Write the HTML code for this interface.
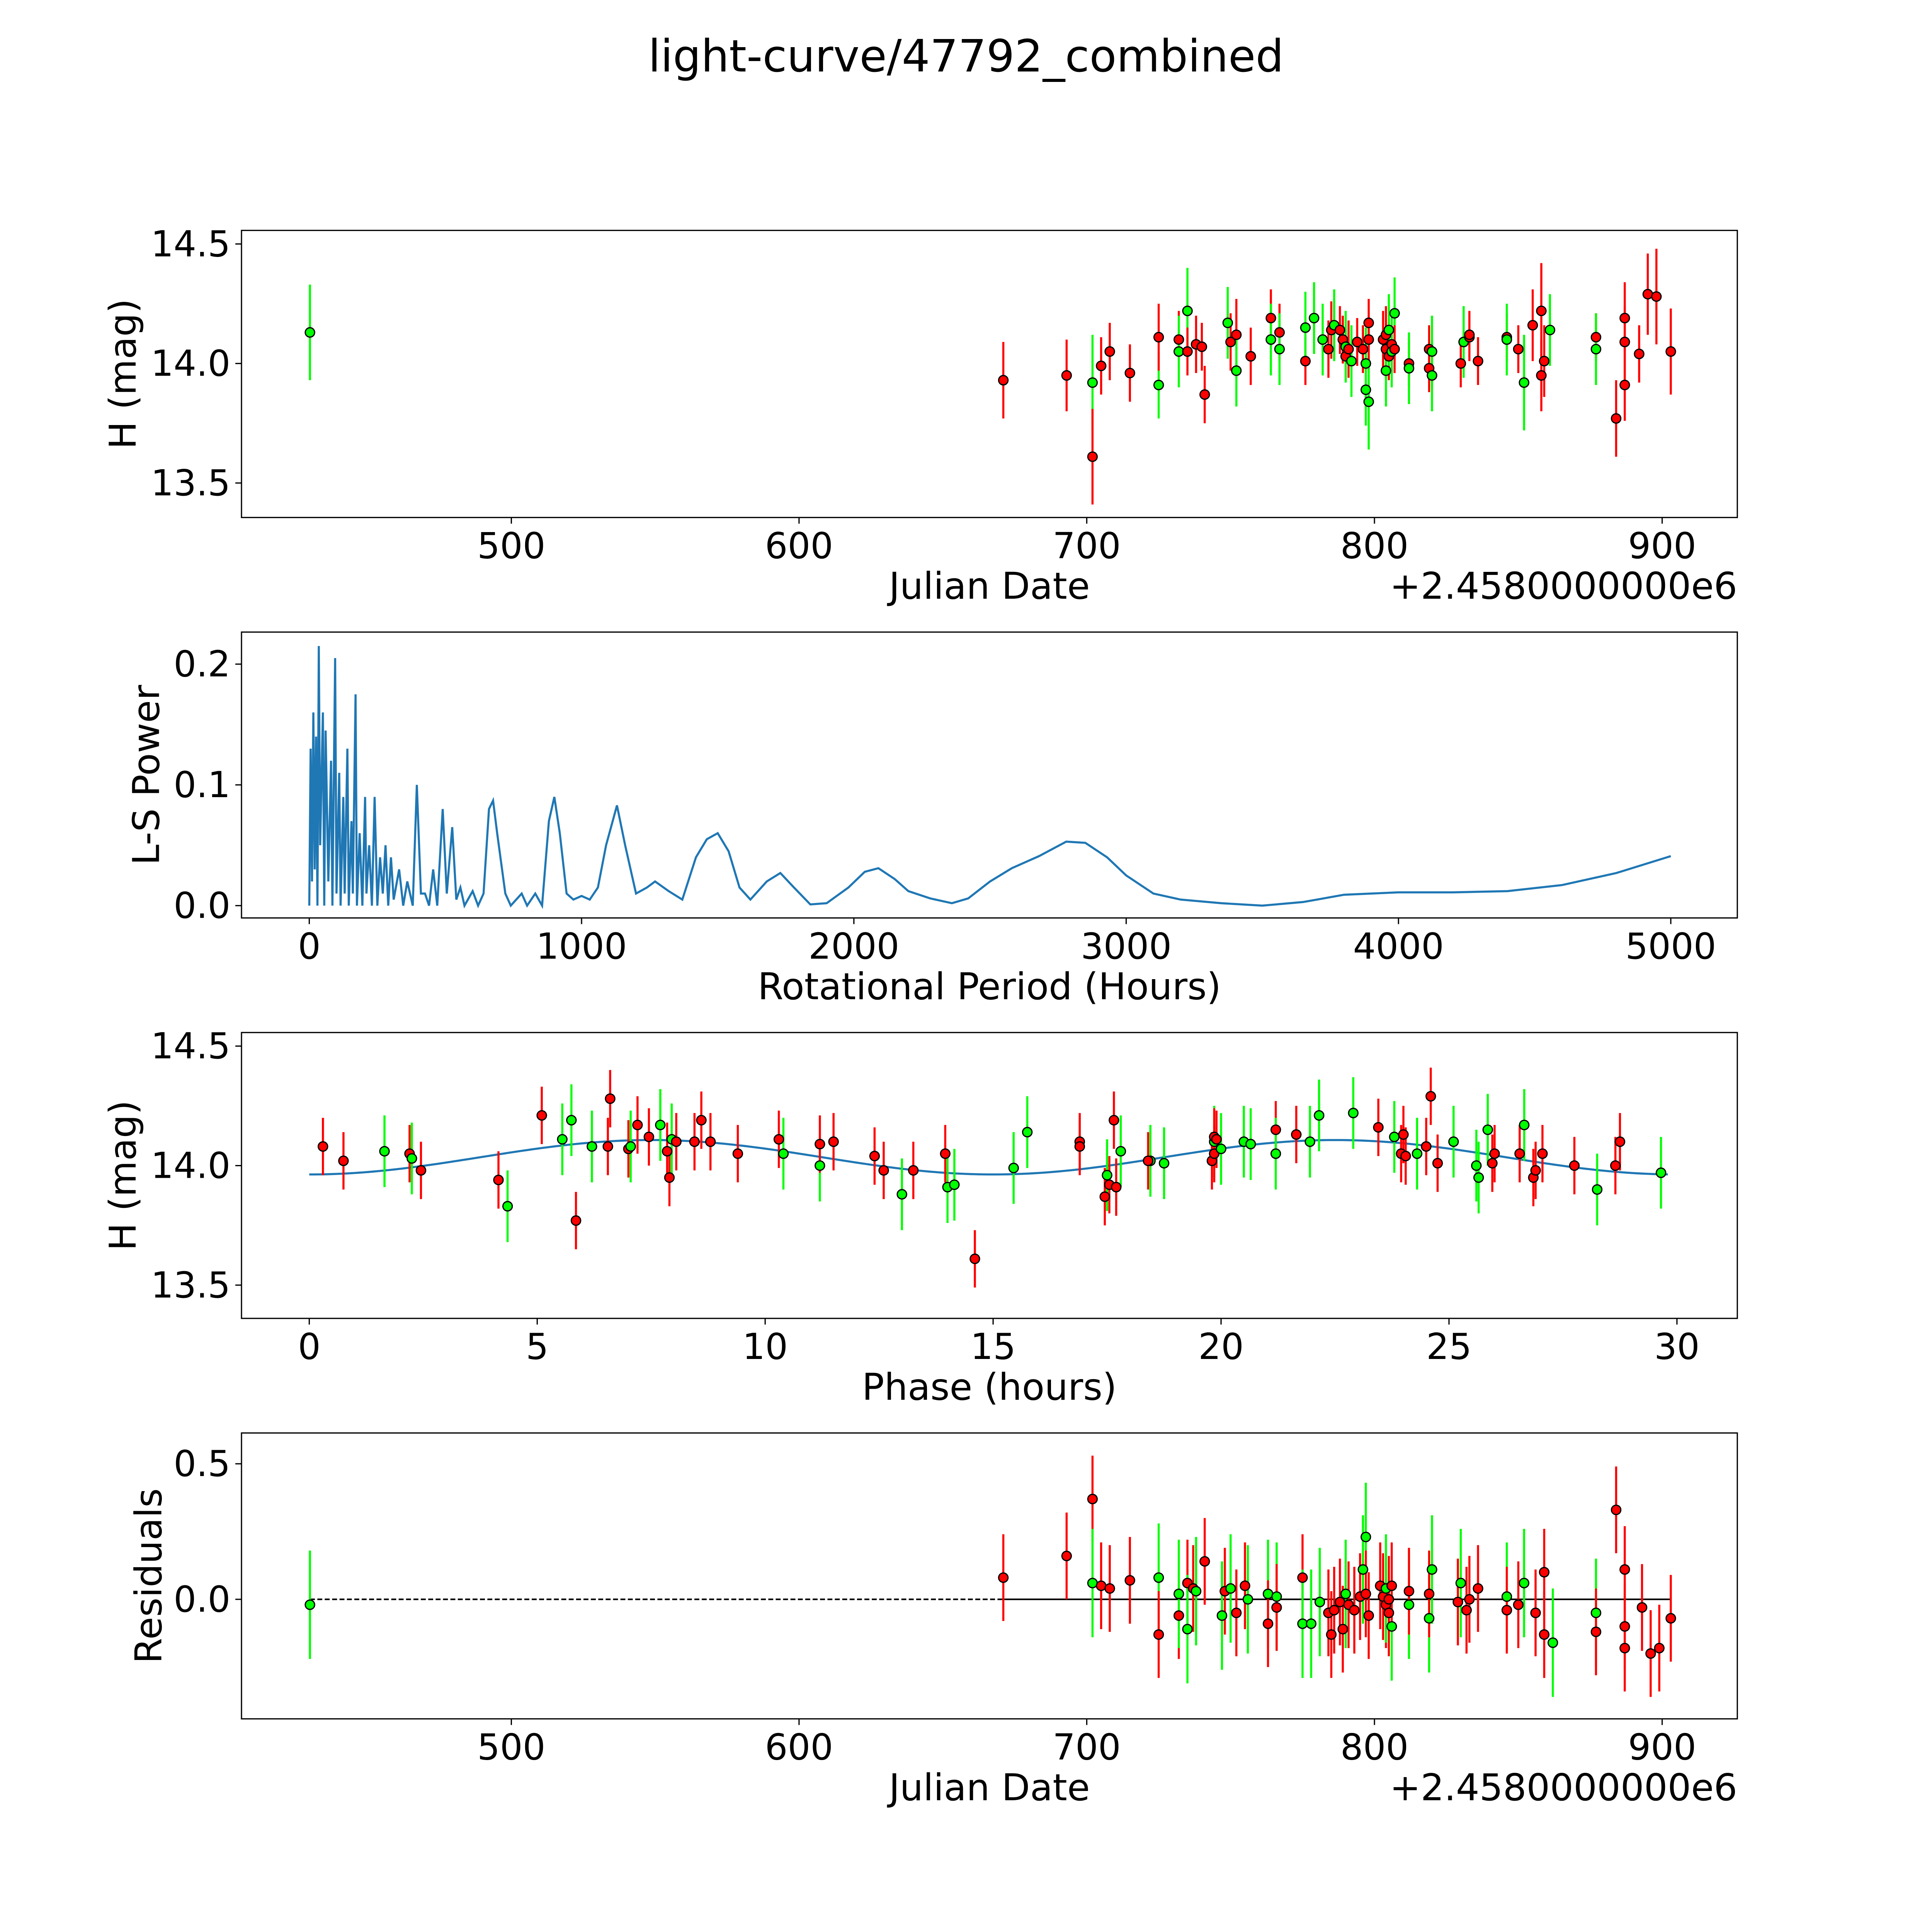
<!DOCTYPE html>
<html><head><meta charset="utf-8"><style>
html,body{margin:0;padding:0;background:#fff;overflow:hidden;width:100vw;height:100vh}
svg{display:block;position:absolute;left:0;top:0;width:100vw;height:100vh;font-family:"DejaVu Sans","Liberation Sans",sans-serif}
</style></head><body>
<svg id="fig" viewBox="0 0 1568 1568" preserveAspectRatio="none" xmlns="http://www.w3.org/2000/svg">
<rect width="1568" height="1568" fill="#fff"/>
<text x="784" y="58" font-size="36" text-anchor="middle">light-curve/47792_combined</text>
<g id="layer"></g>
</svg>
<script>
// ---- Light curve data (JD offset from 2458000, H mag, error, filter) ----
const lcJD=[430,671,693,702,702,705,708,715,725,725,732,732,735,735,738,740,741,750,749,752,752,757,764,764,767,767,776,776,779,782,784,785,786,788,789,790,790,791,792,794,796,797,797,798,798,798,803,804,804,804,805,805,806,806,807,807,812,812,819,819,820,820,830,831,833,833,836,846,846,850,852,855,858,858,859,861,877,877,884,887,887,887,892,895,898,903];
const lcMag=[14.13,13.93,13.95,13.92,13.61,13.99,14.05,13.96,13.91,14.11,14.10,14.05,14.22,14.05,14.08,14.07,13.87,14.09,14.17,14.12,13.97,14.03,14.19,14.10,14.13,14.06,14.01,14.15,14.19,14.10,14.06,14.14,14.16,14.14,14.10,14.03,14.07,14.06,14.01,14.09,14.06,14.00,13.89,13.84,14.17,14.10,14.10,14.12,14.06,13.97,14.03,14.14,14.08,14.05,14.21,14.06,14.00,13.98,14.06,13.98,14.05,13.95,14.00,14.09,14.11,14.12,14.01,14.11,14.10,14.06,13.92,14.16,13.95,14.22,14.01,14.14,14.11,14.06,13.77,14.09,14.19,13.91,14.04,14.29,14.28,14.05];
const lcErr=[0.2,0.16,0.15,0.2,0.2,0.12,0.12,0.12,0.14,0.14,0.12,0.15,0.18,0.1,0.12,0.1,0.12,0.12,0.15,0.15,0.15,0.12,0.12,0.15,0.12,0.15,0.1,0.15,0.15,0.15,0.12,0.12,0.15,0.1,0.1,0.1,0.15,0.12,0.15,0.1,0.1,0.15,0.15,0.2,0.1,0.1,0.12,0.12,0.12,0.15,0.1,0.15,0.1,0.15,0.15,0.1,0.1,0.15,0.1,0.1,0.15,0.15,0.1,0.15,0.1,0.1,0.1,0.1,0.15,0.1,0.2,0.15,0.15,0.2,0.15,0.15,0.1,0.15,0.16,0.15,0.15,0.15,0.12,0.17,0.2,0.18];
const lcBand=["g","r","r","g","r","r","r","r","g","r","r","g","g","r","r","r","r","r","g","r","g","r","r","g","r","g","r","g","g","g","r","r","g","r","r","r","g","r","g","r","r","g","g","g","r","r","r","r","r","g","r","g","r","g","g","r","r","g","r","r","g","g","r","g","r","r","r","r","g","r","g","r","r","r","r","g","r","g","r","r","r","r","r","r","r","r"];
// ---- Periodogram ----
const lsPeriod=[0,5,10,15,20,25,30,35,40,50,55,60,70,80,85,95,100,110,115,125,130,140,145,155,160,170,175,185,195,205,210,220,230,240,250,260,270,280,290,300,310,330,345,360,380,395,410,425,440,455,470,490,505,525,540,555,570,600,620,640,660,675,690,720,740,780,800,830,855,880,900,920,945,970,1000,1030,1060,1090,1130,1160,1200,1240,1270,1320,1370,1420,1460,1500,1540,1580,1620,1680,1730,1780,1840,1900,1980,2040,2090,2150,2200,2280,2360,2420,2500,2580,2680,2780,2850,2930,3000,3100,3200,3350,3500,3650,3800,4000,4200,4400,4600,4800,5000];
const lsPower=[0,0.13,0.02,0.16,0.03,0.14,0.0,0.215,0.05,0.16,0.0,0.145,0.02,0.12,0,0.205,0.01,0.11,0,0.09,0.01,0.13,0,0.07,0.01,0.175,0,0.06,0,0.09,0.01,0.05,0,0.09,0,0.04,0.01,0.05,0,0.04,0.005,0.03,0,0.02,0.0,0.1,0.01,0.01,0.0,0.03,0,0.08,0.01,0.065,0.005,0.015,0,0.012,0,0.01,0.08,0.087,0.06,0.01,0,0.01,0.0,0.01,0,0.07,0.09,0.06,0.01,0.005,0.008,0.005,0.015,0.05,0.083,0.05,0.01,0.015,0.02,0.012,0.005,0.04,0.055,0.06,0.045,0.015,0.005,0.02,0.027,0.015,0.001,0.002,0.015,0.028,0.031,0.022,0.012,0.006,0.002,0.006,0.02,0.031,0.041,0.053,0.052,0.04,0.025,0.01,0.005,0.002,0.0,0.003,0.009,0.011,0.011,0.012,0.017,0.027,0.041];
// ---- Phased curve ----
const phHours=[0.3,0.75,1.65,2.2,2.25,2.45,4.15,4.35,5.1,5.55,5.75,5.85,6.2,6.55,6.6,7.0,7.05,7.2,7.45,7.7,7.85,7.95,7.9,8.05,8.45,8.6,8.8,9.4,10.3,10.4,11.2,11.2,11.5,12.4,12.6,13.0,13.25,13.95,14.0,14.15,14.6,15.45,15.75,16.9,16.9,17.45,17.5,17.55,17.7,17.65,17.8,18.45,18.4,18.75,19.8,19.85,19.85,19.85,19.9,20.0,20.5,20.65,21.2,21.2,21.65,21.95,22.15,22.9,23.45,23.8,24.0,23.95,24.05,24.3,24.5,24.6,24.75,25.1,25.6,25.65,25.85,25.95,26.0,26.55,26.65,26.85,26.9,27.05,27.75,28.25,28.65,28.75,29.65];
const phMag=[14.08,14.02,14.06,14.05,14.03,13.98,13.94,13.83,14.21,14.11,14.19,13.77,14.08,14.08,14.28,14.07,14.08,14.17,14.12,14.17,14.06,14.11,13.95,14.1,14.1,14.19,14.1,14.05,14.11,14.05,14.0,14.09,14.1,14.04,13.98,13.88,13.98,14.05,13.91,13.92,13.61,13.99,14.14,14.1,14.08,13.87,13.96,13.92,13.91,14.19,14.06,14.02,14.02,14.01,14.02,14.1,14.05,14.12,14.11,14.07,14.1,14.09,14.15,14.05,14.13,14.1,14.21,14.22,14.16,14.12,14.13,14.05,14.04,14.05,14.08,14.29,14.01,14.1,14.0,13.95,14.15,14.01,14.05,14.05,14.17,13.95,13.98,14.05,14.0,13.9,14.0,14.1,13.97];
const phBand=["r","r","g","r","g","r","r","g","r","g","g","r","g","r","r","r","g","r","r","g","r","g","r","r","r","r","r","r","r","g","g","r","r","r","r","g","r","r","g","g","r","g","g","r","r","r","g","r","r","r","g","g","r","g","r","g","r","r","r","g","g","g","r","g","r","g","g","g","r","g","r","r","r","g","r","r","r","g","g","g","g","r","r","r","g","r","r","r","r","g","r","r","g"];
const phErr=phMag.map((m,i)=>phBand[i]==="g"?0.15:0.12);
// model fit parameters: mean, amplitude, period (h)
const fitMean=[14.035], fitAmp=[0.072], fitPeriod=[15.0];
// ---- Residuals ----
const resJD=[430,671,693,702,702,705,708,715,725,725,732,732,735,735,737,738,741,747,748,750,752,755,756,763,763,766,766,775,775,778,781,784,785,786,788,789,790,791,793,795,796,797,797,798,802,803,804,804,805,805,806,806,812,812,819,819,820,829,830,832,833,836,846,846,850,852,856,859,859,862,877,877,884,887,887,887,893,896,899,903];
const resVal=[-0.02,0.08,0.16,0.37,0.06,0.05,0.04,0.07,0.08,-0.13,-0.06,0.02,0.06,-0.11,0.04,0.03,0.14,-0.06,0.03,0.04,-0.05,0.05,0.0,0.02,-0.09,0.01,-0.03,0.08,-0.09,-0.09,-0.01,-0.05,-0.13,-0.04,-0.01,-0.11,0.02,-0.02,-0.04,0.01,0.11,0.23,0.02,-0.06,0.05,0.01,-0.02,0.04,-0.05,0.0,-0.1,0.05,-0.02,0.03,-0.07,0.02,0.11,-0.01,0.06,-0.04,0.0,0.04,0.01,-0.04,-0.02,0.06,-0.05,0.1,-0.13,-0.16,-0.05,-0.12,0.33,0.11,-0.1,-0.18,-0.03,-0.2,-0.18,-0.07];
const resBand=["g","r","r","r","g","r","r","r","g","r","r","g","r","g","r","g","r","g","r","g","r","r","g","g","r","g","r","r","g","g","g","r","r","r","r","r","g","r","r","r","g","g","r","r","r","r","r","g","r","r","g","r","g","r","g","r","g","r","g","r","r","r","g","r","r","g","r","r","r","g","g","r","r","r","r","r","r","r","r","r"];
const resErr=resVal.map((v,i)=>resBand[i]==="g"?0.2:0.16);

const NS="http://www.w3.org/2000/svg";
const layer=document.getElementById("layer");
function el(tag,attrs,parent){const e=document.createElementNS(NS,tag);for(const k in attrs)e.setAttribute(k,attrs[k]);(parent||layer).appendChild(e);return e;}
function lin(d0,d1,p0,p1){return v=>p0+(v-d0)*(p1-p0)/(d1-d0);}
const COL={g:"#00ff00",r:"#ff0000"};

function panel(name,box,sx,sy,xt,yt,xfmt,yfmt,xlabel,ylabel,ylabelX,offset){
  const g=el("g",{});
  
  
  const f=el("rect",{x:box[0],y:box[1],width:box[2]-box[0],height:box[3]-box[1],fill:"none",stroke:"#000","stroke-width":1},g);
  
  
  xt.forEach(v=>{const x=sx(v);
    el("line",{x1:x,x2:x,y1:box[3],y2:box[3]+5,stroke:"#000","stroke-width":1},g);
    const t=el("text",{x:x,y:box[3]+33,"font-size":29,"text-anchor":"middle"},g);t.textContent=xfmt(v);
    
    });
  yt.forEach(v=>{const y=sy(v);
    el("line",{x1:box[0]-5,x2:box[0],y1:y,y2:y,stroke:"#000","stroke-width":1},g);
    const t=el("text",{x:box[0]-9,y:y+10,"font-size":29,"text-anchor":"end"},g);t.textContent=yfmt(v);
    
    });
  const xl=el("text",{x:(box[0]+box[2])/2,y:box[3]+66,"font-size":30,"text-anchor":"middle"},g);xl.textContent=xlabel;
  
  
  const cy=(box[1]+box[3])/2;
  const yl=el("text",{x:ylabelX,y:cy,"font-size":30,"text-anchor":"middle",transform:`rotate(-90 ${ylabelX} ${cy})`},g);yl.textContent=ylabel;
  
  
  if(offset){const o=el("text",{x:box[2],y:box[3]+66,"font-size":30,"text-anchor":"end"},g);o.textContent=offset;
    
    }
  return g;
}
function errpts(g,xs,ys,es,bands,sx,sy){
  xs.forEach((x,i)=>{const l=el("line",{x1:sx(x),x2:sx(x),y1:sy(ys[i]-es[i]),y2:sy(ys[i]+es[i]),stroke:COL[bands[i]],"stroke-width":1.7},g);
    
    });
  xs.forEach((x,i)=>{const c=el("circle",{cx:sx(x),cy:sy(ys[i]),r:3.8,fill:COL[bands[i]],stroke:"#000","stroke-width":1},g);
    
    });
}
const f1=v=>v.toFixed(1);
const fi=v=>String(v);
// Panel 1
const sxJ=lin(500,900,415,1349);
const sy1=lin(14.0,14.5,295,198);
const b1=[196,187,1410,420];
const g1=panel("light-curve-panel",b1,sxJ,sy1,[500,600,700,800,900],[13.5,14.0,14.5],fi,f1,"Julian Date","H (mag)",110,"+2.4580000000e6");
errpts(g1,lcJD,lcMag,lcErr,lcBand,sxJ,sy1);
// Panel 2
const sxP=lin(0,5000,251,1356);
const sy2=lin(0,0.2,735,539);
const b2=[196,513,1410,745];
const g2=panel("periodogram-panel",b2,sxP,sy2,[0,1000,2000,3000,4000,5000],[0.0,0.1,0.2],fi,f1,"Rotational Period (Hours)","L-S Power",129);
const pl=el("polyline",{points:lsPeriod.map((p,i)=>sxP(p)+","+sy2(lsPower[i])).join(" "),fill:"none",stroke:"#1f77b4","stroke-width":1.7},g2);


// Panel 3
const sxH=lin(0,30,251,1361);
const sy3=lin(14.0,14.5,946,849);
const b3=[196,838,1410,1070];
const g3=panel("phase-panel",b3,sxH,sy3,[0,5,10,15,20,25,30],[13.5,14.0,14.5],fi,f1,"Phase (hours)","H (mag)",110);
const mpts=[];for(let k=0;k<=300;k++){const p=k*29.8/300;mpts.push(sxH(p)+","+sy3(fitMean[0]-fitAmp[0]*Math.cos(2*Math.PI*p/fitPeriod[0])));}
const ml=el("polyline",{points:mpts.join(" "),fill:"none",stroke:"#1f77b4","stroke-width":1.7},g3);


errpts(g3,phHours,phMag,phErr,phBand,sxH,sy3);
// Panel 4
const sy4=lin(0,0.5,1298,1188);
const b4=[196,1163,1410,1395];
const g4=panel("residuals-panel",b4,sxJ,sy4,[500,600,700,800,900],[0.0,0.5],fi,f1,"Julian Date","Residuals",131,"+2.4580000000e6");
const d=el("line",{x1:sxJ(430),x2:sxJ(671),y1:sy4(0),y2:sy4(0),stroke:"#000","stroke-width":1.3,"stroke-dasharray":"4,2"},g4);


const s=el("line",{x1:sxJ(671),x2:sxJ(903),y1:sy4(0),y2:sy4(0),stroke:"#000","stroke-width":1.3},g4);


errpts(g4,resJD,resVal,resErr,resBand,sxJ,sy4);
</script>
</body></html>
